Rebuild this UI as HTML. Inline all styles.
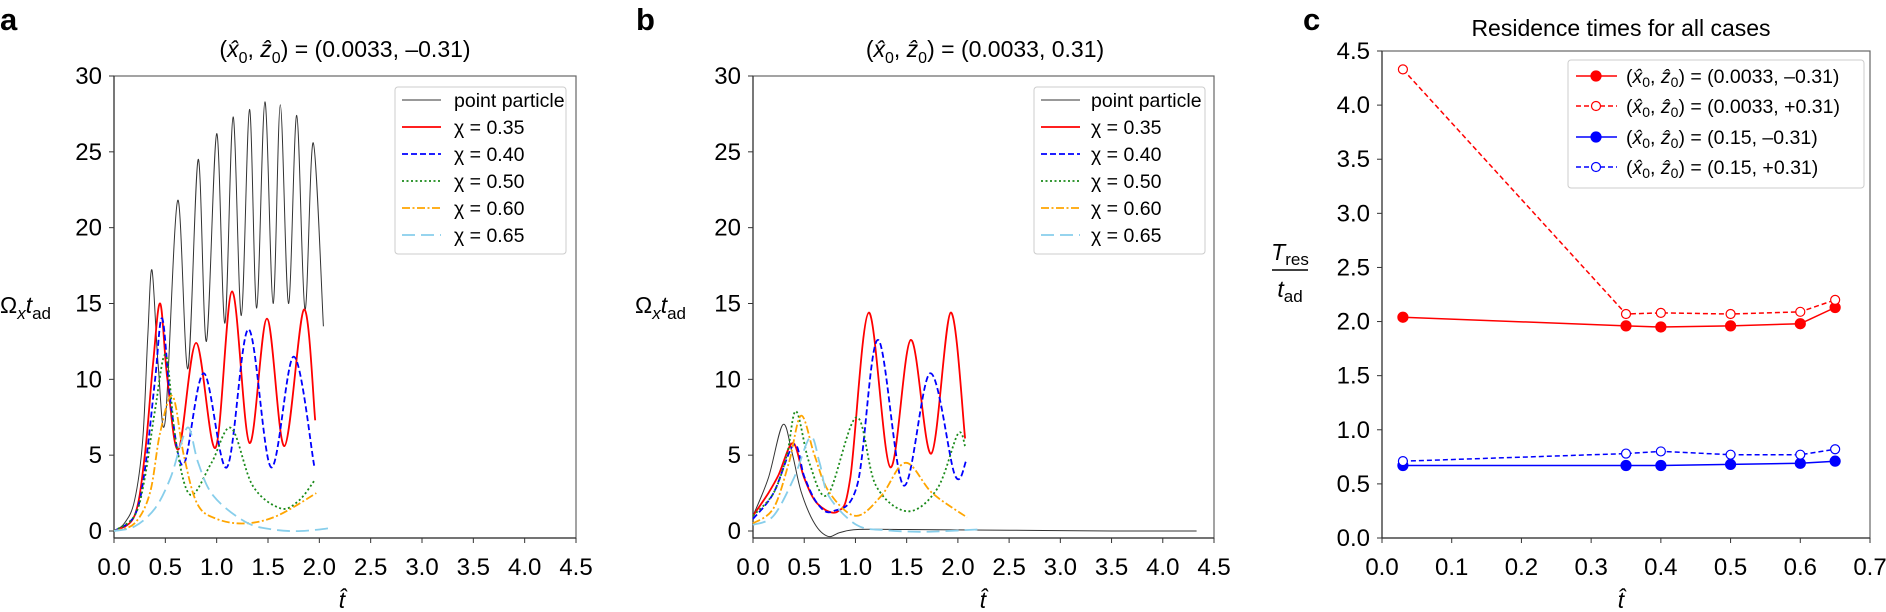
<!DOCTYPE html>
<html><head><meta charset="utf-8"><style>
html,body{margin:0;padding:0;background:#fff;}
svg{display:block;font-family:"Liberation Sans",sans-serif;}
</style></head><body>
<svg id="s" width="1886" height="612" viewBox="0 0 1886 612" xmlns="http://www.w3.org/2000/svg">
<rect width="1886" height="612" fill="#fff"/>
<text x="0" y="30" font-size="31" font-weight="bold">a</text>
<text x="636" y="30" font-size="31" font-weight="bold">b</text>
<text x="1303" y="30" font-size="31" font-weight="bold">c</text>
<text x="345" y="57" font-size="23" text-anchor="middle">(<tspan font-style="italic">x̂</tspan><tspan font-size="16" dy="6">0</tspan><tspan dy="-6">, </tspan><tspan font-style="italic">ẑ</tspan><tspan font-size="16" dy="6">0</tspan><tspan dy="-6">) = (0.0033, –0.31)</tspan></text>
<text x="985" y="57" font-size="23" text-anchor="middle">(<tspan font-style="italic">x̂</tspan><tspan font-size="16" dy="6">0</tspan><tspan dy="-6">, </tspan><tspan font-style="italic">ẑ</tspan><tspan font-size="16" dy="6">0</tspan><tspan dy="-6">) = (0.0033, 0.31)</tspan></text>
<text x="1621" y="36" font-size="23" text-anchor="middle">Residence times for all cases</text>
<text x="0" y="313" font-size="23">Ω<tspan font-style="italic" font-size="17" dy="6">x</tspan><tspan font-style="italic" dy="-6">t</tspan><tspan font-size="17" dy="6">ad</tspan></text>
<text x="635" y="313" font-size="23">Ω<tspan font-style="italic" font-size="17" dy="6">x</tspan><tspan font-style="italic" dy="-6">t</tspan><tspan font-size="17" dy="6">ad</tspan></text>
<text x="1290" y="260" font-size="23" text-anchor="middle"><tspan font-style="italic">T</tspan><tspan font-size="17" dy="5">res</tspan></text>
<line x1="1272" y1="270" x2="1308" y2="270" stroke="#000" stroke-width="1.5"/>
<text x="1290" y="297" font-size="23" text-anchor="middle"><tspan font-style="italic">t</tspan><tspan font-size="17" dy="5">ad</tspan></text>
<text x="342" y="608" font-size="23" text-anchor="middle" font-style="italic">t̂</text>
<text x="983" y="608" font-size="23" text-anchor="middle" font-style="italic">t̂</text>
<text x="1621" y="608" font-size="23" text-anchor="middle" font-style="italic">t̂</text>
<g id="g"></g>
</svg>
<script>
var NS="http://www.w3.org/2000/svg",G=document.getElementById('g');
function el(t,a,txt){var e=document.createElementNS(NS,t);for(var k in a)e.setAttribute(k,a[k]);if(txt!=null)e.textContent=txt;G.appendChild(e);return e;}
function cr(P){var d="M"+P[0][0].toFixed(1)+","+P[0][1].toFixed(1);for(var i=0;i<P.length-1;i++){var p0=P[i>0?i-1:i],p1=P[i],p2=P[i+1],p3=P[i+2<P.length?i+2:i+1];
var c1=[p1[0]+(p2[0]-p0[0])/6,p1[1]+(p2[1]-p0[1])/6],c2=[p2[0]-(p3[0]-p1[0])/6,p2[1]-(p3[1]-p1[1])/6];
d+="C"+c1[0].toFixed(1)+","+c1[1].toFixed(1)+" "+c2[0].toFixed(1)+","+c2[1].toFixed(1)+" "+p2[0].toFixed(1)+","+p2[1].toFixed(1);}return d;}
var Y0=538,Y1=76,FS=24;
function axes(L,R,xt,xl,xmax){
 el('rect',{x:L,y:Y1,width:R-L,height:Y0-Y1,fill:'none',stroke:'#666','stroke-width':1.2});
 el('line',{x1:L,y1:Y1,x2:L,y2:Y0,stroke:'#333','stroke-width':1.2});el('line',{x1:L,y1:Y0,x2:R,y2:Y0,stroke:'#333','stroke-width':1.2});
 for(var i=0;i<xt.length;i++){var x=L+(R-L)*xt[i]/xmax;el('line',{x1:x,y1:Y0,x2:x,y2:Y0+5,stroke:'#333'});el('text',{x:x,y:575,'font-size':FS,'text-anchor':'middle'},xl[i]);}
}
function axesY(L,Yb,Yt,yt,yl,ymax){for(var i=0;i<yt.length;i++){var y=Yb-(Yb-Yt)*yt[i]/ymax;el('line',{x1:L-5,y1:y,x2:L,y2:y,stroke:'#333'});el('text',{x:L-12,y:y+8,'font-size':FS,'text-anchor':'end'},yl[i]);}}
var xt=[0,.5,1,1.5,2,2.5,3,3.5,4,4.5],xl=xt.map(function(v){return v.toFixed(1)});
var yt=[0,5,10,15,20,25,30],yl=yt.map(String);
var panels=[{L:114,R:576},{L:753,R:1214}];
panels.forEach(function(p){axes(p.L,p.R,xt,xl,4.5);axesY(p.L,Y0-7,Y1,yt,yl,30);});
function line(p,pts,st){var P=pts.map(function(q){return [p.L+(p.R-p.L)*q[0]/4.5,(Y0-7)-(Y0-7-Y1)*q[1]/30]});var a={d:cr(P),fill:'none',stroke:st.c,'stroke-width':st.w||1.8};if(st.d)a['stroke-dasharray']=st.d;el('path',a);}
var S={k:{c:'#333',w:1},r:{c:'#f00'},b:{c:'#00f',d:'6,3'},g:{c:'#1a8a1a',d:'2,2.5'},o:{c:'#ffa500',d:'8,2.5,2,2.5'},l:{c:'#87ceeb',d:'13,6'}};
var A={
k:[[0,0],[.1,.5],[.2,2],[.28,6],[.33,13],[.37,17.2],[.43,11],[.5,7.3],[.62,21.8],[.72,10.7],[.82,24.5],[.9,12.5],[1,26.2],[1.08,13.7],[1.16,27.3],[1.24,14.2],[1.32,27.8],[1.39,14.7],[1.47,28.3],[1.55,15],[1.62,28.1],[1.7,15],[1.78,27.4],[1.86,14.6],[1.94,25.6],[2.04,13.5]],
r:[[0,0],[.2,1],[.3,5],[.38,11],[.45,15],[.52,10],[.63,5.4],[.8,12.4],[.99,5.5],[1.15,15.8],[1.32,5.8],[1.49,14],[1.66,5.6],[1.85,14.6],[1.96,7.3]],
b:[[0,0],[.2,1],[.3,4],[.4,10],[.47,14],[.56,8],[.68,4.4],[.875,10.4],[1.1,4.2],[1.31,13.3],[1.53,4.2],[1.75,11.5],[1.95,4.3]],
g:[[0,0],[.2,1],[.3,3.5],[.4,8],[.505,11.6],[.6,6],[.74,2.4],[.95,4.5],[1.14,6.8],[1.35,3],[1.62,1.5],[1.8,2],[1.95,3.3]],
o:[[0,0],[.2,.5],[.35,2.5],[.45,6.5],[.57,8.9],[.68,5],[.81,1.8],[1,.8],[1.28,.5],[1.59,1],[1.97,2.5]],
l:[[0,0],[.2,.3],[.4,1.5],[.55,3.5],[.65,5.7],[.73,6.8],[.82,4.5],[.97,2.3],[1.28,.6],[1.55,.1],[1.82,0],[2.12,.2]]};
var B={
k:[[0,1],[.15,3.5],[.29,7],[.38,5.2],[.47,2.6],[.6,.5],[.73,-.35],[.85,-.1],[1.02,.1],[1.5,.1],[2.5,.05],[3.5,0],[4.33,0]],
r:[[0,1],[.15,2.5],[.25,3.7],[.39,5.8],[.5,3.5],[.63,1.8],[.83,1.3],[.95,3.5],[1.13,14.4],[1.34,4.2],[1.54,12.6],[1.74,5.1],[1.93,14.4],[2.07,6.1]],
b:[[0,.8],[.2,2.5],[.4,5.7],[.5,3.6],[.63,1.8],[.78,1.3],[1.02,3.1],[1.22,12.6],[1.47,3],[1.73,10.4],[1.97,3.7],[2.08,4.6]],
g:[[0,1],[.2,2.5],[.33,5],[.42,7.9],[.55,4.5],[.73,2.4],[1.01,7.5],[1.2,3],[1.51,1.3],[1.8,2.8],[2,6.4],[2.07,5.6]],
o:[[0,.5],[.2,1.5],[.35,4.5],[.47,7.6],[.6,5],[.74,2.6],[1,1],[1.25,2.3],[1.49,4.5],[1.75,2.5],[2.09,.9]],
l:[[0,.4],[.2,1],[.4,3.5],[.56,6.2],[.65,4.5],[.74,2.3],[1.01,.4],[1.3,.05],[1.63,-.05],[1.9,0],[2.19,.1]]};
['k','r','b','g','o','l'].forEach(function(k){line(panels[0],A[k],S[k]);line(panels[1],B[k],S[k]);});
function leg(x0,y0,lx1,lx2,tx){el('rect',{x:x0,y:y0,width:171,height:167,rx:3,fill:'#fff',stroke:'#ccc'});
 var labs=['point particle','χ = 0.35','χ = 0.40','χ = 0.50','χ = 0.60','χ = 0.65'],ks=['k','r','b','g','o','l'],ys=[100,127,154,181,208,235];
 for(var i=0;i<6;i++){var s=S[ks[i]],a={x1:lx1,y1:ys[i],x2:lx2,y2:ys[i],stroke:s.c,'stroke-width':s.w||1.8};if(s.d)a['stroke-dasharray']=s.d;el('line',a);el('text',{x:tx,y:ys[i]+7,'font-size':19.5},labs[i]);}}
leg(395,87,402,441,454);leg(1034,87,1041,1080,1091);
var CL=1382,CR=1870,CT=51;
el('rect',{x:CL,y:CT,width:CR-CL,height:Y0-CT,fill:'none',stroke:'#666','stroke-width':1.2});
el('line',{x1:CL,y1:CT,x2:CL,y2:Y0,stroke:'#333','stroke-width':1.2});el('line',{x1:CL,y1:Y0,x2:CR,y2:Y0,stroke:'#333','stroke-width':1.2});
for(var i=0;i<=7;i++){var x=CL+(CR-CL)*i/7;el('line',{x1:x,y1:Y0,x2:x,y2:Y0+5,stroke:'#333'});el('text',{x:x,y:575,'font-size':FS,'text-anchor':'middle'},(i/10).toFixed(1));}
for(var i=0;i<=9;i++){var y=Y0-(Y0-CT)*i/9;el('line',{x1:CL-5,y1:y,x2:CL,y2:y,stroke:'#333'});el('text',{x:CL-12,y:y+8,'font-size':FS,'text-anchor':'end'},(i/2).toFixed(1));}
var cx=[0.03,0.35,0.4,0.5,0.6,0.65];
var C=[{v:[2.04,1.96,1.95,1.96,1.98,2.13],c:'#f00',f:1},{v:[4.33,2.07,2.08,2.07,2.09,2.2],c:'#f00',f:0},{v:[0.67,0.67,0.67,0.68,0.69,0.71],c:'#00f',f:1},{v:[0.71,0.78,0.80,0.77,0.77,0.82],c:'#00f',f:0}];
function px(x){return CL+(CR-CL)*x/0.7}function py(v){return Y0-(Y0-CT)*v/4.5}
C.forEach(function(s){var pts=cx.map(function(x,i){return px(x).toFixed(1)+','+py(s.v[i]).toFixed(1)}).join(' ');var a={points:pts,fill:'none',stroke:s.c,'stroke-width':1.5};if(!s.f)a['stroke-dasharray']='5,3';el('polyline',a);
 cx.forEach(function(x,i){el('circle',{cx:px(x),cy:py(s.v[i]),r:s.f?5:4.5,fill:s.f?s.c:'#fff',stroke:s.c,'stroke-width':1.2});});});
el('rect',{x:1568,y:60,width:296,height:128,rx:3,fill:'#fff',stroke:'#ccc'});
var cl=['(0.0033, –0.31)','(0.0033, +0.31)','(0.15, –0.31)','(0.15, +0.31)'],cy=[76,106,137,167];
C.forEach(function(s,i){var a={x1:1576,y1:cy[i],x2:1617,y2:cy[i],stroke:s.c,'stroke-width':1.5};if(!s.f)a['stroke-dasharray']='5,3';el('line',a);
 el('circle',{cx:1596,cy:cy[i],r:s.f?5:4.5,fill:s.f?s.c:'#fff',stroke:s.c,'stroke-width':1.2});
 var t=el('text',{x:1626,y:cy[i]+7,'font-size':19.5});t.innerHTML='(<tspan font-style="italic">x̂</tspan><tspan font-size="14" dy="4">0</tspan><tspan dy="-4">, </tspan><tspan font-style="italic">ẑ</tspan><tspan font-size="14" dy="4">0</tspan><tspan dy="-4">) = '+cl[i]+'</tspan>';});
</script>
</body></html>
